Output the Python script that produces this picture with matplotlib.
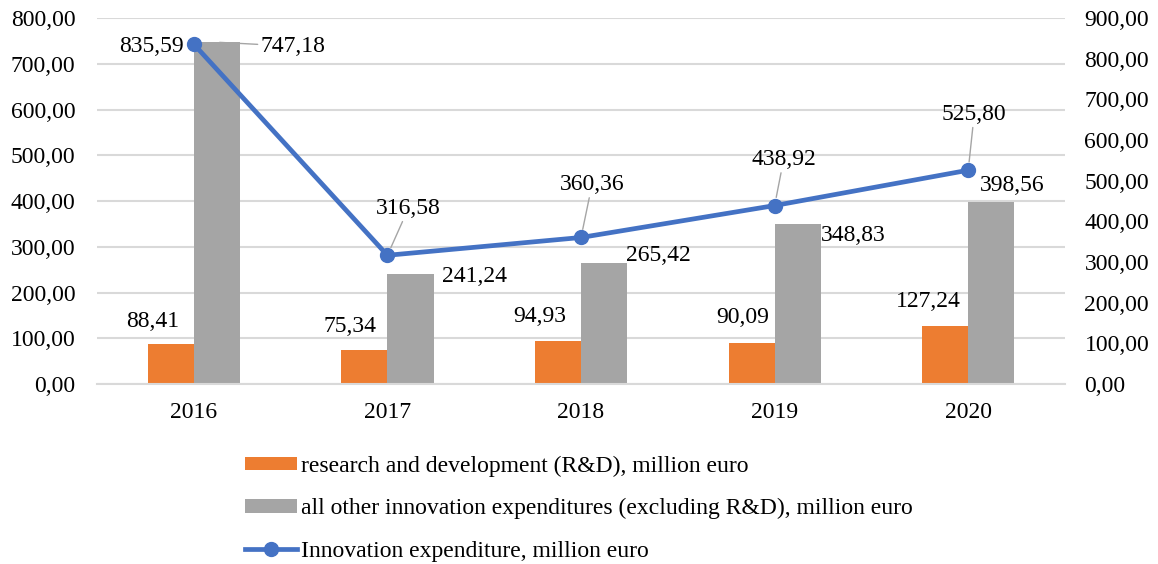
import numpy as np
import matplotlib
matplotlib.use("Agg")
import matplotlib.pyplot as plt
from matplotlib.ticker import FuncFormatter, MultipleLocator

plt.rcParams['font.family'] = ['Liberation Serif', 'DejaVu Serif']
fontsize = 17
plt.rcParams['font.size'] = fontsize

years = ["2016", "2017", "2018", "2019", "2020"]
rd = [88.41, 75.34, 94.93, 90.09, 127.24]
other = [747.18, 241.24, 265.42, 348.83, 398.56]
total = [835.59, 316.58, 360.36, 438.92, 525.80]

lbl_rd = "research and development (R&D), million euro"
lbl_other = "all other innovation expenditures (excluding R&D), million euro"
lbl_total = "Innovation expenditure, million euro"

c_orange = "#ED7D31"
c_gray = "#A5A5A5"
c_blue = "#4472C4"

# label offsets in pixels (text centre relative to the mark)
off_rd = [(-18, 22), (-14, 23), (-18, 24), (-9, 25), (-17, 24)]
off_other = [(76, -4), (64, -3), (54, 7), (56, -11), (21, 16)]
off_total = [(-42, -2), (21, 47), (11, 53), (9, 46), (6, 56)]


def fmt(v):
    return f"{v:.2f}".replace(".", ",")


fig = plt.figure(figsize=(11.58, 5.64), dpi=100)
fig.patch.set_facecolor('w')
ax = fig.add_axes([0.0838, 0.3191, 0.9197 - 0.0838, 0.968 - 0.3191])
ax2 = ax.twinx()

x = np.arange(len(years))
w = 0.238
b1 = ax.bar(x - w/2, rd, w, color=c_orange, label=lbl_rd, zorder=2)
b2 = ax.bar(x + w/2, other, w, color=c_gray, label=lbl_other, zorder=2)
ln, = ax2.plot(x, total, '-o', color=c_blue, lw=3.4, ms=10, label=lbl_total, zorder=3)

ax.set_xlim(-0.5, 4.5)
ax.set_ylim(0, 800)
ax2.set_ylim(0, 900)
ax.yaxis.set_major_locator(MultipleLocator(100))
ax2.yaxis.set_major_locator(MultipleLocator(100))
ax.yaxis.set_major_formatter(FuncFormatter(lambda v, p: fmt(v)))
ax2.yaxis.set_major_formatter(FuncFormatter(lambda v, p: fmt(v)))
ax.set_xticks(x)
ax.set_xticklabels(years)

ax.grid(axis='y', color='#D9D9D9', lw=1.5, zorder=0)
ax.set_axisbelow(True)
for a in (ax, ax2):
    for s in a.spines.values():
        s.set_visible(False)
    a.tick_params(length=0, labelsize=fontsize)
ax.tick_params(axis='y', pad=15.5)
ax2.tick_params(axis='y', pad=14)
ax.tick_params(axis='x', pad=13)
ax.spines['bottom'].set_visible(True)
ax.spines['bottom'].set_color('#D9D9D9')
ax.spines['bottom'].set_linewidth(1.5)

lead = dict(arrowstyle='-', color='#A5A5A5', lw=1, shrinkA=0, shrinkB=6)

for i in range(len(years)):
    ax.annotate(fmt(rd[i]), (x[i] - w/2, rd[i]), xytext=off_rd[i],
                textcoords='offset pixels', ha='center', va='center', fontsize=fontsize)
    ax.annotate(fmt(other[i]), (x[i] + w/2, other[i]), xytext=off_other[i],
                textcoords='offset pixels', ha='center', va='center', fontsize=fontsize,
                arrowprops=dict(lead, shrinkB=2) if i == 0 else None)
    ax2.annotate(fmt(total[i]), (x[i], total[i]), xytext=off_total[i],
                 textcoords='offset pixels', ha='center', va='center', fontsize=fontsize,
                 arrowprops=lead if i > 0 else None, zorder=4)

fig.legend(handles=[b1, b2, ln], loc='upper left', bbox_to_anchor=(0.2116, 0.192),
           frameon=False, handlelength=2.2, handleheight=0.5, handletextpad=0.17,
           labelspacing=0.9, borderaxespad=0, borderpad=0, fontsize=fontsize)

fig.savefig("out.png", dpi=100)
